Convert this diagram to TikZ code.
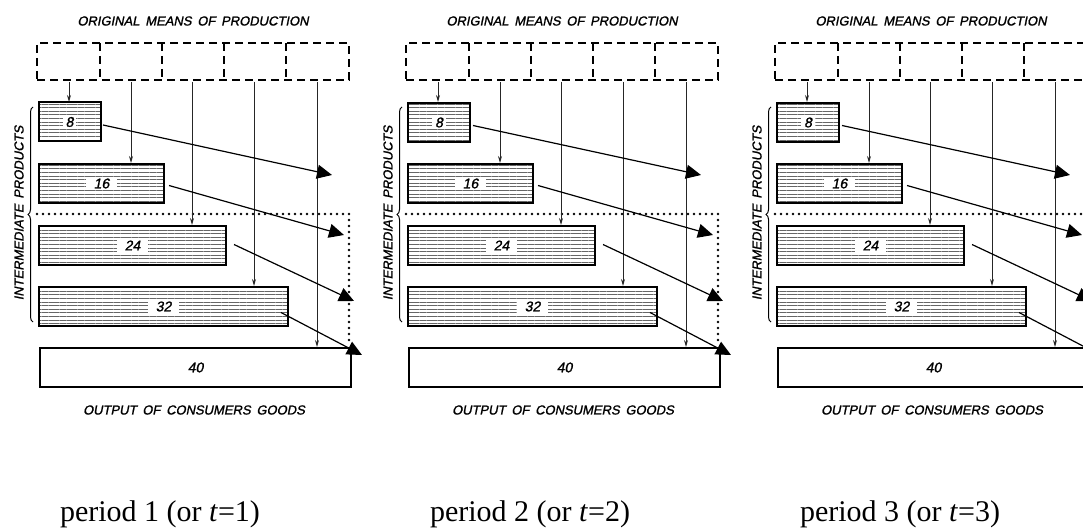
\documentclass[tikz,border=0pt]{standalone}
\usepackage{fontspec}
\newfontfamily\lettering{Liberation Sans}[WordSpace=1.6, FakeBold=1.3, FakeSlant=0.2]
\newfontfamily\capfont{Liberation Serif}
\usetikzlibrary{arrows.meta,decorations.pathreplacing,patterns.meta,calc}
\begin{document}
\begin{tikzpicture}[x=1pt,y=-1pt,
  lett/.style={font=\lettering\fontsize{13}{15}\selectfont, inner sep=0pt},
  numlab/.style={font=\lettering\fontsize{14}{16}\selectfont, fill=white, inner xsep=8pt, inner ysep=2pt},
  hbox/.style={draw, line width=2pt, pattern={Lines[angle=0,distance=3.6pt,line width=1pt]}, pattern color=black!60, minimum height=39pt, inner sep=0pt},
  obox/.style={draw, line width=2pt, fill=white, minimum height=39pt, inner sep=0pt},
  dbox/.style={draw, line width=2pt, dash pattern=on 8pt off 5pt, minimum width=312pt, minimum height=37pt, inner sep=0pt},
  dline/.style={line width=2pt, dash pattern=on 8pt off 5pt},
  dotline/.style={line width=2.6pt, line cap=round, dash pattern=on 0pt off 6pt},
  varrow/.style={line width=0.9pt, black!85, -{Stealth[length=7pt,width=4pt]}},
  darrow/.style={line width=1.2pt, -{Triangle[length=15pt,width=14pt]}},
  brc/.style={line width=1pt, decorate, decoration={brace, amplitude=5pt}},
  perlab/.style={font=\capfont\fontsize{30}{34}\selectfont, inner sep=0pt, anchor=base}
]
\path[use as bounding box] (0,0) rectangle (1083,529);
\clip (0,0) rectangle (1083,529);
\foreach \p/\dx in {1/0, 2/369, 3/738} {
\begin{scope}[xshift=\dx pt]
  % titles
  \node[lett] (top-\p) at (193,21) {ORIGINAL MEANS OF PRODUCTION};
  \node[lett] (bot-\p) at (194,410) {OUTPUT OF CONSUMERS GOODS};
  \node[lett, rotate=90] (int-\p) at (19,213) {INTERMEDIATE PRODUCTS};
  % original means of production
  \node[dbox] (omp-\p) at (193,61.5) {};
  \foreach \xx in {100,162,224,286} {
    \draw[dline] (\xx,43) -- (\xx,80);
  }
  % boxes
  \node[hbox, minimum width=62pt, anchor=north west] (b8-\p) at (38,102) {};
  \node[hbox, minimum width=125pt, anchor=north west] (b16-\p) at (38,163) {};
  \node[hbox, minimum width=187pt, anchor=north west] (b24-\p) at (38,225) {};
  \node[hbox, minimum width=249pt, anchor=north west] (b32-\p) at (38,286) {};
  \node[obox, minimum width=311pt, anchor=north west] (b40-\p) at (39,347) {};
  \node[numlab, inner xsep=3pt] (l8-\p) at (b8-\p.center) {8};
  \node[numlab] (l16-\p) at (b16-\p.center) {16};
  \node[numlab] (l24-\p) at (b24-\p.center) {24};
  \node[numlab] (l32-\p) at (b32-\p.center) {32};
  \node[lett, font=\lettering\fontsize{14}{16}\selectfont] (l40-\p) at (b40-\p.center) {40};
  % brace
  \draw[brc] (33,322) -- (33,107);
  % dotted boundary
  \coordinate (dA-\p) at (37,214);
  \coordinate (dB-\p) at (349,214);
  \coordinate (dC-\p) at (349,345);
  \draw[dotline] (dA-\p) -- (dB-\p) -- (dC-\p);
  % vertical arrows
  \coordinate (s1-\p) at (69,82);
  \coordinate (s2-\p) at (131,82);
  \coordinate (s3-\p) at (192,82);
  \coordinate (s4-\p) at (254,82);
  \coordinate (s5-\p) at (317,82);
  \draw[varrow] (s1-\p) -- (s1-\p |- b8-\p.north);
  \draw[varrow] (s2-\p) -- (s2-\p |- b16-\p.north);
  \draw[varrow] (s3-\p) -- (s3-\p |- b24-\p.north);
  \draw[varrow] (s4-\p) -- (s4-\p |- b32-\p.north);
  \draw[varrow] (s5-\p) -- (s5-\p |- b40-\p.north);
  % diagonal arrows
  \coordinate (e1-\p) at (332,175);
  \coordinate (e2-\p) at (344,235);
  \coordinate (e3-\p) at (354,301);
  \coordinate (e4-\p) at (362,355);
  \draw[darrow] ($(b8-\p.east)+(2,3)$) -- (e1-\p);
  \draw[darrow] ($(b16-\p.east)+(4,2)$) -- (e2-\p);
  \draw[darrow] ($(b24-\p.east)+(7,-1)$) -- (e3-\p);
  \draw[darrow] ($(b32-\p.east)+(-8,6)$) -- (e4-\p);
\end{scope}
}
\node[perlab] (per1) at (160,521) {period 1 (or \textit{t}=1)};
\node[perlab] (per2) at (530,521) {period 2 (or \textit{t}=2)};
\node[perlab] (per3) at (900,521) {period 3 (or \textit{t}=3)};
\end{tikzpicture}
\end{document}
